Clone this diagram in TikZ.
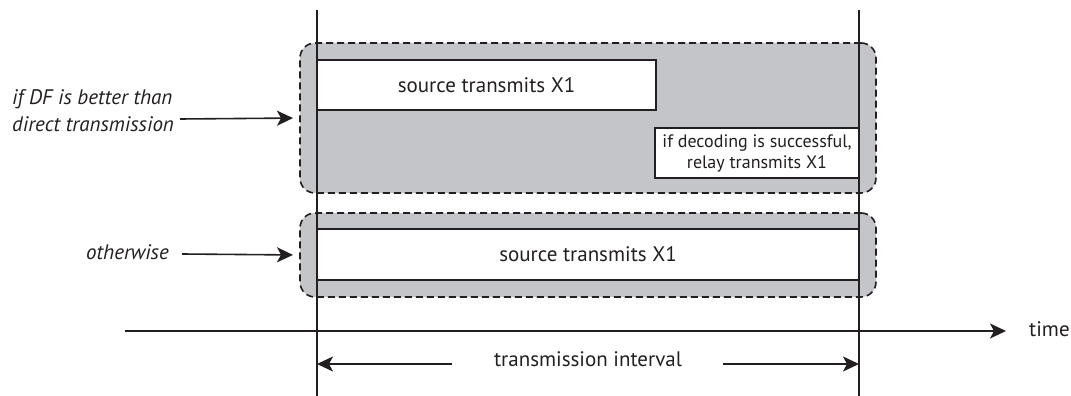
\documentclass[tikz,border=0pt]{standalone}
\usepackage{fontspec}
\setmainfont{PT Sans}
\usetikzlibrary{arrows.meta}
\definecolor{boxgray}{RGB}{196,197,200}
\definecolor{ink}{RGB}{35,31,32}
\tikzset{
  dashbox/.style={draw=ink, fill=boxgray, dash pattern=on 7pt off 4pt, line width=1.6pt, rounded corners=15pt, inner sep=0pt, outer sep=0pt},
  whitebox/.style={draw=ink, fill=white, line width=1.6pt, inner sep=0pt, outer sep=0pt, text=ink},
  lbl/.style={text=ink, inner sep=0pt, font=\fontsize{21}{27}\selectfont\itshape},
  txt/.style={text=ink, inner sep=0pt, font=\fontsize{21}{24}\selectfont},
  vline/.style={draw=ink, line width=1.6pt},
  arr/.style={draw=ink, line width=1.6pt, -{Stealth[length=16pt, width=15pt, inset=4pt]}},
}
\begin{document}
\begin{tikzpicture}[x=1pt, y=-1pt]
\useasboundingbox (0,0) rectangle (1071,396);
% dashed grey boxes
\node[dashbox, minimum width=576pt, minimum height=150pt] (top) at (588,118) {};
\node[dashbox, minimum width=576pt, minimum height=84pt] (bot) at (588,255) {};
% white boxes
\node[whitebox, txt, minimum width=339pt, minimum height=50pt] (src1) at (486.5,85) {source transmits X1};
\node[whitebox, minimum width=204pt, minimum height=50pt, align=center, font=\fontsize{18}{21}\selectfont] (relay) at (757,153) {if decoding is successful,\\relay transmits X1};
\node[whitebox, txt, minimum width=542pt, minimum height=51pt] (src2) at (588,254.5) {source transmits X1};
% vertical lines
\coordinate (lt) at (317,10);
\coordinate (lb) at (317,396);
\coordinate (rt) at (859,10);
\coordinate (rb) at (859,396);
\draw[vline] (lt) -- (lb);
\draw[vline] (rt) -- (rb);
% time axis
\coordinate (axs) at (125,331);
\coordinate (axe) at (1006,331);
\draw[arr] (axs) -- (axe);
\node[txt, anchor=west] (time) at (1029,329) {time};
% transmission interval
\node[txt] (ti) at (588,359) {transmission interval};
\coordinate (tl) at (452,364);
\coordinate (tr) at (723,364);
\draw[arr] (tl) -- (lb |- tl);
\draw[arr] (tr) -- (rb |- tr);
% labels
\node[lbl, align=left, anchor=west] (df) at (12,111) {if DF is better than\\direct transmission};
\coordinate (dfa) at (180,119);
\draw[arr, shorten >=7pt] (dfa) -- (top.west);
\node[lbl, anchor=east] (ow) at (169,252) {otherwise};
\coordinate (owa) at (182,254);
\draw[arr, shorten >=7pt] (owa) -- (bot.west);
\end{tikzpicture}
\end{document}
